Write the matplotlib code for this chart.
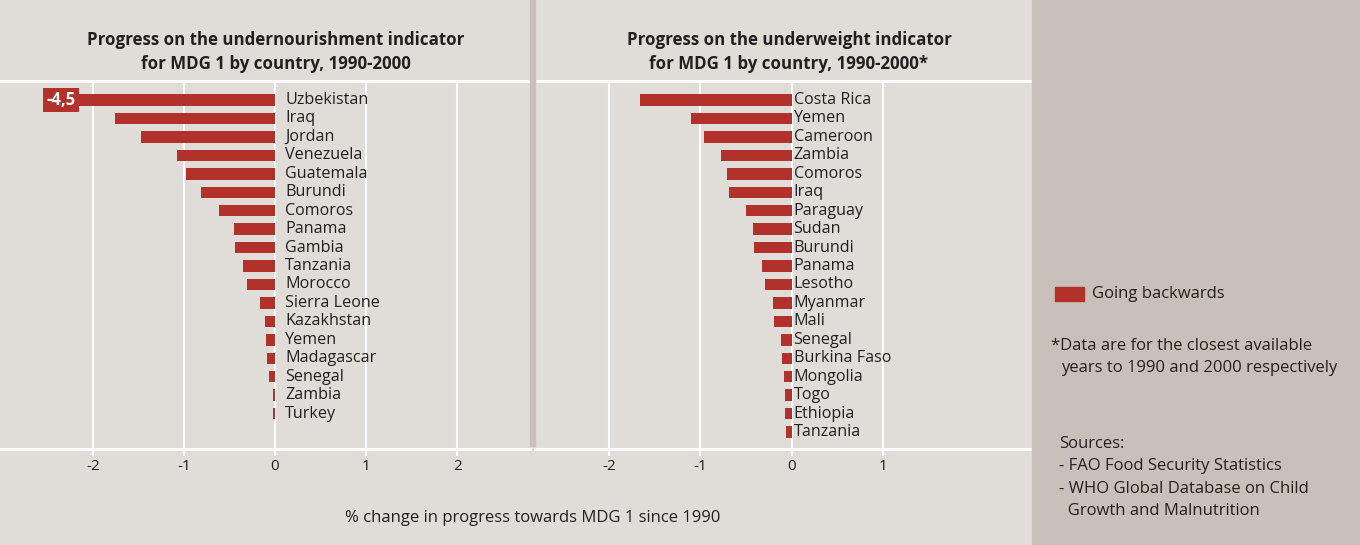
import numpy as np
import matplotlib.pyplot as plt
from matplotlib.patches import Rectangle

plt.rcParams['font.family'] = ['Open Sans', 'DejaVu Sans']

# ---- data -----------------------------------------------------------------
under_countries = ["Uzbekistan", "Iraq", "Jordan", "Venezuela", "Guatemala",
                   "Burundi", "Comoros", "Panama", "Gambia", "Tanzania",
                   "Morocco", "Sierra Leone", "Kazakhstan", "Yemen",
                   "Madagascar", "Senegal", "Zambia", "Turkey"]
under_values = [-4.5, -1.76, -1.47, -1.08, -0.98, -0.81, -0.62, -0.45, -0.44,
                -0.35, -0.31, -0.16, -0.11, -0.10, -0.09, -0.07, -0.02, -0.02]

weight_countries = ["Costa Rica", "Yemen", "Cameroon", "Zambia", "Comoros",
                    "Iraq", "Paraguay", "Sudan", "Burundi", "Panama",
                    "Lesotho", "Myanmar", "Mali", "Senegal", "Burkina Faso",
                    "Mongolia", "Togo", "Ethiopia", "Tanzania"]
weight_values = [-1.66, -1.10, -0.96, -0.77, -0.71, -0.69, -0.50, -0.42, -0.41,
                 -0.33, -0.29, -0.20, -0.19, -0.12, -0.11, -0.09, -0.07, -0.07,
                 -0.06]

left_ticks = [-2, -1, 0, 1, 2]
right_ticks = [-2, -1, 0, 1]

# ---- style ----------------------------------------------------------------
BAR = "#b2312a"
PANEL = "#e0ddd9"
SIDE = "#c9c1b9"
TXT = "#231f20"
W, H = 1360, 545
CUT = -2.15  # where the off-scale bar is broken
FS = 12


def fx(px):
    return px / W


def fy(py):
    return 1 - py / H


fig = plt.figure(figsize=(13.6, 5.45), dpi=100, facecolor=PANEL)

# sidebar and divider
fig.patches.append(Rectangle((fx(1032), 0), fx(W - 1032), 1,
                             transform=fig.transFigure, color=SIDE, zorder=0))
fig.patches.append(Rectangle((fx(530), fy(446)), fx(5), fy(0) - fy(446),
                             transform=fig.transFigure, color=SIDE, zorder=0))

top, bot = 81, 449
ylo = -1.03
yhi = ylo + 19.95


def panel(x0, x1, xlim, ticks, names, vals, label_dx):
    ax = fig.add_axes([fx(x0), fy(bot), fx(x1 - x0), fy(top) - fy(bot)])
    ax.set_facecolor(PANEL)
    y = np.arange(len(vals))
    shown = np.maximum(np.array(vals), CUT)
    ax.barh(y, shown, height=0.62, color=BAR, zorder=3)
    for yi, name in zip(y, names):
        ax.text(label_dx, yi, name, ha="left", va="center", fontsize=11.6,
                color=TXT, zorder=4)
    ax.set_xlim(*xlim)
    ax.set_ylim(yhi, ylo)
    ax.set_xticks(ticks)
    ax.set_xticklabels([str(t) for t in ticks], fontsize=11, color=TXT)
    ax.set_yticks([])
    ax.grid(axis="x", color="white", linewidth=1.5, zorder=1)
    ax.tick_params(axis="x", length=5, width=1.5, color="white", pad=2)
    for s in ["left", "right"]:
        ax.spines[s].set_visible(False)
    for s in ["top", "bottom"]:
        ax.spines[s].set_color("white")
        ax.spines[s].set_linewidth(2.2)
    return ax, y, vals


axl, yl, vl = panel(0, 530, (-3.02, 2.80), left_ticks, under_countries,
                    under_values, 0.11)
axr, yr, vr = panel(535, 1032, (-2.81, 2.63), right_ticks, weight_countries,
                    weight_values, 0.02)

# broken bar value label
for yi, v in zip(yl, vl):
    if v < CUT:
        axl.text(CUT - 0.04, yi, f"{v:.1f}".replace(".", ","), ha="right",
                 va="center", fontsize=12, fontweight="bold", color="white",
                 zorder=5,
                 bbox=dict(boxstyle="square,pad=0.18", fc=BAR, ec="none"))

# titles
fig.text(fx(276), fy(52), "Progress on the undernourishment indicator\n"
         "for MDG 1 by country, 1990-2000", ha="center", va="center",
         fontsize=12.2, fontweight="bold", color=TXT, linespacing=1.4)
fig.text(fx(789), fy(52), "Progress on the underweight indicator\n"
         "for MDG 1 by country, 1990-2000*", ha="center", va="center",
         fontsize=12.2, fontweight="bold", color=TXT, linespacing=1.4)

fig.text(fx(533), fy(518), "% change in progress towards MDG 1 since 1990",
         ha="center", va="center", fontsize=FS, color=TXT)

# sidebar: legend, footnote, sources
fig.patches.append(Rectangle((fx(1055), fy(301)), fx(29), fy(287) - fy(301),
                             transform=fig.transFigure, color=BAR, zorder=2))
fig.text(fx(1092), fy(294), "Going backwards", ha="left", va="center",
         fontsize=FS, color=TXT)
fig.text(fx(1051), fy(346), "*Data are for the closest available",
         ha="left", va="center", fontsize=FS, color=TXT)
fig.text(fx(1061), fy(368), "years to 1990 and 2000 respectively",
         ha="left", va="center", fontsize=FS, color=TXT)
sources = ["Sources:", "- FAO Food Security Statistics",
           "- WHO Global Database on Child", "  Growth and Malnutrition"]
for i, line in enumerate(sources):
    fig.text(fx(1059), fy(444 + 22.4 * i), line, ha="left", va="center",
             fontsize=FS, color=TXT)

fig.savefig("out.png", dpi=100, facecolor=PANEL)
